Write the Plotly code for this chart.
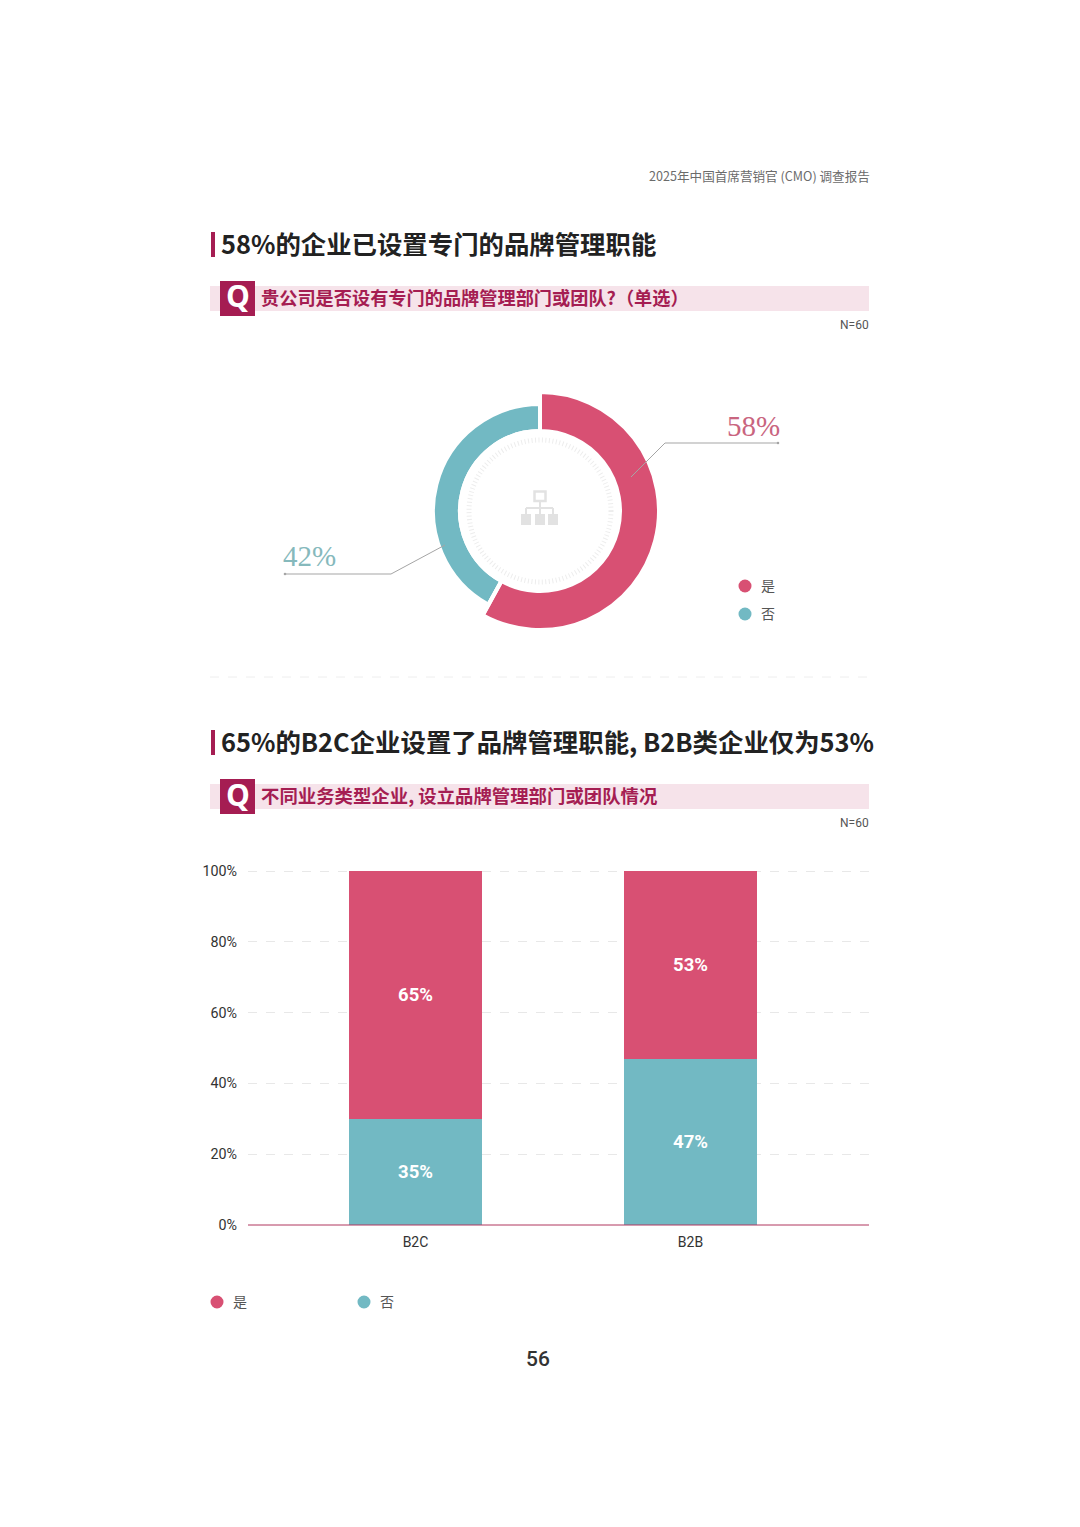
import plotly.graph_objects as go

W, H = 1080, 1527

# ---- data ----
donut_labels = ["是", "否"]
donut_values = [58, 42]
donut_text = ["58%", "42%"]
bar_categories = ["B2C", "B2B"]
bar_no_heights = [30, 47]      # bar heights as drawn in the picture
bar_yes_heights = [70, 53]
bar_no_labels = ["35%", "47%"]  # labels as printed in the picture
bar_yes_labels = ["65%", "53%"]
y_tick_values = [0, 20, 40, 60, 80, 100]
y_tick_labels = ["0%", "20%", "40%", "60%", "80%", "100%"]

PINK = "#D85073"
TEAL = "#72B9C3"
CRIMSON = "#A51D52"
BAND = "#F6E3EA"
CJK = "Noto Sans CJK SC"
LATIN = "Roboto"


def px(x):
    return x / W


def py(y):
    return 1 - y / H


shapes = []
annotations = []


def rect(x0, y0, x1, y1, color, layer="above"):
    shapes.append(dict(type="rect", xref="paper", yref="paper", x0=px(x0), x1=px(x1),
                       y0=py(y0), y1=py(y1), fillcolor=color, line_width=0, layer=layer))


def line(x0, y0, x1, y1, color, width=1, dash="solid"):
    shapes.append(dict(type="line", xref="paper", yref="paper", x0=px(x0), x1=px(x1),
                       y0=py(y0), y1=py(y1), line=dict(color=color, width=width, dash=dash)))


def dot(cx, cy, r, color):
    shapes.append(dict(type="circle", xref="paper", yref="paper", x0=px(cx - r), x1=px(cx + r),
                       y0=py(cy + r), y1=py(cy - r), fillcolor=color, line_width=0))


def text(x, y, s, size, color, anchor="left", family=CJK, weight=400):
    annotations.append(dict(xref="paper", yref="paper", x=px(x), y=py(y), text=s, showarrow=False,
                            xanchor=anchor, yanchor="middle", borderpad=0, borderwidth=0,
                            font=dict(size=size, color=color, family=family, weight=weight)))


fig = go.Figure()

# donut: two rings of different thickness
cx, cy = 540, 511
R_pink, R_teal, R_in = 119, 107, 80
for values_colors, R in (((["rgba(0,0,0,0)", TEAL]), R_teal), (([PINK, "rgba(0,0,0,0)"]), R_pink)):
    fig.add_trace(go.Pie(
        labels=donut_labels, values=donut_values, sort=False, direction="clockwise", rotation=0,
        hole=R_in / R, textinfo="none", hoverinfo="label+percent", showlegend=False,
        marker=dict(colors=values_colors, line=dict(color="white", width=4)),
        domain=dict(x=[px(cx - R), px(cx + R)], y=[py(cy + R), py(cy - R)]),
    ))

# stacked bars
fig.add_trace(go.Bar(x=bar_categories, y=bar_no_heights, name="否", marker_color=TEAL, marker_line_width=0,
                     text=bar_no_labels, textposition="inside", insidetextanchor="middle", textangle=0,
                     textfont=dict(color="white", size=18.5, family=LATIN, weight=700), width=0.484))
fig.add_trace(go.Bar(x=bar_categories, y=bar_yes_heights, name="是", marker_color=PINK, marker_line_width=0,
                     text=bar_yes_labels, textposition="inside", insidetextanchor="middle", textangle=0,
                     textfont=dict(color="white", size=18.5, family=LATIN, weight=700), width=0.484))

# page furniture: header
text(870, 175, "2025年中国首席营销官 (CMO) 调查报告", 12.6, "#6b6b6b", "right")

# section 1
rect(211, 232, 215, 257, CRIMSON)
text(221, 243, "58%的企业已设置专门的品牌管理职能", 25.4, "#222222", weight=700)
rect(210, 286, 869, 311, BAND, "below")
rect(220, 281, 255, 316, CRIMSON)
text(237.5, 296, "Q", 30, "white", "center", "Open Sans", 700)
text(261, 297, "贵公司是否设有专门的品牌管理部门或团队?（单选）", 18.2, CRIMSON, weight=700)
text(869, 325, "N=60", 12, "#555555", "right", LATIN)

# dashed ring inside donut
shapes.append(dict(type="circle", xref="paper", yref="paper", x0=px(cx - 71), x1=px(cx + 71),
                   y0=py(cy + 71), y1=py(cy - 71), line=dict(color="#EDEDED", width=5, dash="1px,2.5px")))

# org-chart icon in the donut centre
ICON = "#E2E2E2"
shapes.append(dict(type="rect", xref="paper", yref="paper", x0=px(534.5), x1=px(545.5), y0=py(501), y1=py(491.5),
                   line=dict(color=ICON, width=2.5)))
line(540, 501, 540, 514, ICON, 2)
line(526, 508, 553, 508, ICON, 2)
line(526, 508, 526, 514, ICON, 2)
line(553, 508, 553, 514, ICON, 2)
for icon_x in (526, 540, 553):
    rect(icon_x - 5, 514, icon_x + 5, 525, ICON)

# leader lines and callouts
LEAD = "#A5A5A5"
line(631, 477, 665, 443, LEAD)
line(665, 443, 778, 443, LEAD)
dot(778, 443, 1.3, LEAD)
text(780, 426, donut_text[0], 29, "#C9657F", "right", "Liberation Serif")
line(445, 545, 391, 574, LEAD)
line(391, 574, 285, 574, LEAD)
dot(285, 574, 1.3, LEAD)
text(283, 556, donut_text[1], 29, "#86B9BC", "left", "Liberation Serif")

# donut legend
dot(745, 586, 6.5, PINK)
text(761, 585, donut_labels[0], 14, "#555555")
dot(745, 614, 6.5, TEAL)
text(761, 613, donut_labels[1], 14, "#555555")

# separator
line(210, 677, 869, 677, "#EEEEEE", 1, "dash")

# section 2
rect(211, 730, 215, 755, CRIMSON)
text(221, 741, "65%的B2C企业设置了品牌管理职能, B2B类企业仅为53%", 25.4, "#222222", weight=700)
rect(210, 784, 869, 809, BAND, "below")
rect(220, 779, 255, 814, CRIMSON)
text(237.5, 794, "Q", 30, "white", "center", "Open Sans", 700)
text(261, 795, "不同业务类型企业, 设立品牌管理部门或团队情况", 18.4, CRIMSON, weight=700)
text(869, 823, "N=60", 12, "#555555", "right", LATIN)

# baseline of the bar chart
line(248, 1225, 869, 1225, "#B0375F")

# bar legend
dot(217, 1302, 6.5, PINK)
text(233, 1301, "是", 14, "#555555")
dot(364, 1302, 6.5, TEAL)
text(380, 1301, "否", 14, "#555555")

# page number
text(538, 1359, "56", 21, "#333333", "center", LATIN, 500)

fig.update_layout(
    width=W, height=H, margin=dict(l=0, r=0, t=0, b=0), autosize=False,
    paper_bgcolor="white", plot_bgcolor="white", barmode="stack", showlegend=False,
    shapes=shapes, annotations=annotations,
    xaxis=dict(domain=[px(248), px(869)], range=[-0.609, 1.649], type="category", showgrid=False,
               showline=False, ticks="", zeroline=False, automargin=False,
               ticklabelstandoff=7,
               tickfont=dict(size=14, color="#333333", family=LATIN), anchor="y"),
    yaxis=dict(domain=[py(1225), py(870)], range=[0, 100.3], tickvals=y_tick_values, ticktext=y_tick_labels,
               showgrid=True, gridcolor="#E8E8E8", griddash="dash", gridwidth=1,
               zeroline=False,
               showline=False, ticks="", ticklen=0, automargin=False, ticklabelstandoff=10,
               tickfont=dict(size=14.3, color="#333333", family=LATIN), anchor="x"),
)

fig.write_html("out.html", config=dict(displayModeBar=False),
               post_script="document.body.style.margin='0';document.body.style.overflow='hidden';")
